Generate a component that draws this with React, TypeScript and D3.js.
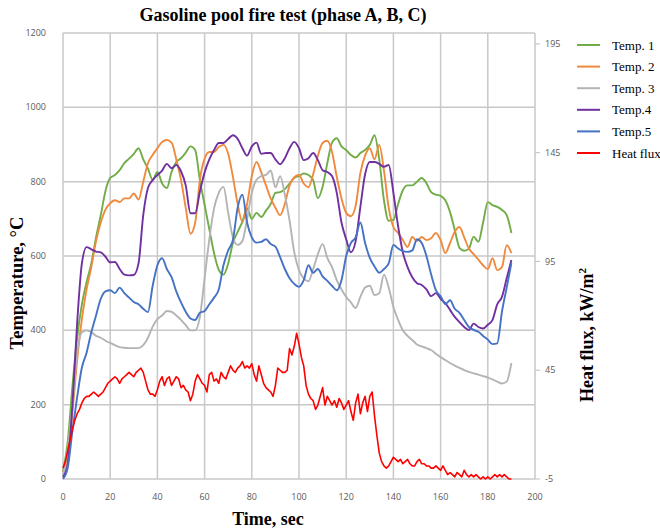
import React from "react";
import * as d3 from "d3";

// ---------- data ----------
const timeStep2 = d3.range(0, 191, 2); // sample times (s) for temperatures
const timeStep1 = d3.range(0, 191, 1); // sample times (s) for heat flux

const temp1 = [20,100,250,380,470,530,580,650,710,775,810,818,831,850,862,875,890,860,835,805,826,795,783,826,853,863,878,895,885,804,738,672,608,563,550,580,635,665,692,728,700,716,705,722,740,770,772,780,795,810,815,822,818,804,755,786,850,905,917,895,885,872,865,877,885,899,925,860,750,695,697,740,777,790,790,800,810,796,772,765,762,750,718,670,622,614,620,652,638,690,745,737,732,724,710,662];
const temp2 = [20,60,180,320,430,510,570,640,690,725,742,750,745,755,755,768,752,800,850,872,890,907,912,905,860,805,730,660,689,805,862,880,880,893,899,875,813,740,692,740,815,853,825,790,755,730,710,740,790,812,818,795,785,820,870,904,910,880,813,755,716,707,735,823,870,890,860,899,830,730,678,662,643,624,651,640,651,643,648,662,643,608,635,665,678,650,620,605,590,575,565,594,562,570,629,608];
const temp3 = [10,80,200,340,395,400,395,385,380,372,366,360,355,353,352,352,352,360,380,410,430,440,452,450,440,428,414,400,400,436,540,645,728,770,786,716,650,630,640,700,770,805,815,818,830,785,815,765,695,610,562,540,532,565,605,632,595,570,535,510,490,475,460,490,515,520,495,500,550,515,463,428,400,385,374,362,357,352,347,337,328,320,312,305,299,293,288,284,281,277,273,268,262,257,262,312];
const temp4 = [5,40,200,420,580,624,618,612,610,598,583,584,565,550,548,549,580,710,783,804,818,830,848,836,845,828,790,715,715,773,825,860,885,904,904,915,925,915,890,870,895,905,875,877,877,860,847,863,890,907,890,858,863,877,858,831,826,815,770,690,645,610,640,732,820,853,853,848,840,845,770,680,610,570,543,527,522,510,492,500,485,473,455,436,422,409,401,418,409,405,415,428,470,490,540,589];
const temp5 = [0,30,130,220,300,340,395,440,485,505,508,500,515,500,488,476,470,458,449,520,575,594,565,543,505,475,450,432,428,447,452,470,488,510,575,615,643,730,765,690,650,636,638,645,632,625,597,565,540,525,517,535,575,555,565,545,533,520,508,535,600,635,650,690,635,595,572,555,565,580,630,620,613,611,615,645,635,600,550,508,492,470,481,458,447,428,409,401,396,385,375,363,365,450,515,581];
const heatFlux = [0,3,8,13,18,22,25,27,30,32,33,33,34,35,34,33,34,35,37,39,40,41,42,41,39,41,42,43,44,43,42,44,45,46,44,40,36,34,34,33,36,40,42,38,41,42,38,40,42,41,37,38,36,35,31,34,40,43,41,39,38,35,43,44,40,41,39,44,42,41,44,47,45,44,46,47,49,46,47,46,48,43,40,47,43,39,37,36,35,33,38,46,45,44,44,45,55,52,56,62,57,51,47,38,34,32,31,27,29,33,37,29,33,31,29,31,28,32,30,27,29,31,26,22,30,34,25,30,33,26,33,35,24,15,7,3,1,0,1,3,5,4,3,4,2,3,4,2,1,1,3,4,2,2,1,1,0,0,1,0,-1,1,-1,-3,-2,-3,-4,-2,-3,-4,-1,-3,-4,-3,-4,-3,-4,-5,-4,-5,-4,-5,-4,-3,-4,-3,-4,-3,-4,-5,-5];

const tempTicks = [0, 200, 400, 600, 800, 1000, 1200];
const fluxTicks = [-5, 45, 95, 145, 195];
const timeTicks = [0, 20, 40, 60, 80, 100, 120, 140, 160, 180, 200];

const seriesNames = ["Temp. 1", "Temp. 2", "Temp. 3", "Temp.4", "Temp.5", "Heat flux"];
const seriesColors = ["#70AD47", "#F08A3E", "#B4B4B4", "#7030A0", "#4472C4", "#FF0000"];

// ---------- layout ----------
const W = 660, H = 531;
const plot = { left: 63, right: 535, top: 33, bottom: 479 };

export default function App() {
  const x = d3.scaleLinear().domain([0, 200]).range([plot.left, plot.right]);
  const yT = d3.scaleLinear().domain([0, 1200]).range([plot.bottom, plot.top]);
  const yQ = d3.scaleLinear().domain([-5, 200]).range([plot.bottom, plot.top]);

  const tempSeries = [temp1, temp2, temp3, temp4, temp5];
  const lineT = d3.line<number>()
    .x((_, i) => x(timeStep2[i]))
    .y((d) => yT(d))
    .curve(d3.curveMonotoneX);
  const lineQ = d3.line<number>()
    .x((_, i) => x(timeStep1[i]))
    .y((d) => yQ(d));

  const gridColor = "#C8C8C8";
  const tickFont = "'Open Sans', 'Liberation Sans', sans-serif";
  const serif = "'Liberation Serif', 'DejaVu Serif', serif";

  return (
    <svg width={W} height={H} style={{ position: "absolute", left: 0, top: 0, background: "#fff" }}>
      <rect x={0} y={0} width={W} height={H} fill="#fff" />
      {/* grid */}
      {tempTicks.map((t) => (
        <line key={"h" + t} x1={plot.left} x2={plot.right} y1={yT(t)} y2={yT(t)} stroke={gridColor} strokeWidth={1.5} />
      ))}
      {timeTicks.map((t) => (
        <line key={"v" + t} x1={x(t)} x2={x(t)} y1={plot.top} y2={plot.bottom} stroke={gridColor} strokeWidth={1.5} />
      ))}
      {/* right axis ticks */}
      {fluxTicks.map((q) => (
        <line key={"rt" + q} x1={plot.right} x2={plot.right + 5} y1={yQ(q)} y2={yQ(q)} stroke={gridColor} strokeWidth={1.2} />
      ))}
      {/* tick labels */}
      {tempTicks.map((t) => (
        <text key={"lt" + t} x={46} y={yT(t)} dy="0.35em" textAnchor="end" fontFamily={tickFont} fontSize={9} fill="#595959">{t}</text>
      ))}
      {fluxTicks.map((q) => (
        <text key={"rl" + q} x={545} y={yQ(q)} dy="0.35em" textAnchor="start" fontFamily={tickFont} fontSize={9} fill="#595959">{q}</text>
      ))}
      {timeTicks.map((t) => (
        <text key={"bl" + t} x={x(t)} y={497} dy="0.35em" textAnchor="middle" fontFamily={tickFont} fontSize={9} fill="#595959">{t}</text>
      ))}
      {/* series */}
      {tempSeries.map((s, i) => (
        <path key={"s" + i} d={lineT(s) || ""} fill="none" stroke={seriesColors[i]} strokeWidth={1.9} strokeLinejoin="round" />
      ))}
      <path d={lineQ(heatFlux) || ""} fill="none" stroke={seriesColors[5]} strokeWidth={1.6} strokeLinejoin="round" />
      {/* titles */}
      <text x={283} y={21} textAnchor="middle" fontFamily={serif} fontWeight="bold" fontSize={18}>Gasoline pool fire test (phase A, B, C)</text>
      <text x={268} y={525} textAnchor="middle" fontFamily={serif} fontWeight="bold" fontSize={18}>Time, sec</text>
      <text transform={`translate(23,283) rotate(-90)`} textAnchor="middle" fontFamily={serif} fontWeight="bold" fontSize={18.5}>Temperature, °C</text>
      <text transform={`translate(593,335) rotate(-90)`} textAnchor="middle" fontFamily={serif} fontWeight="bold" fontSize={18}>
        Heat flux, kW/m<tspan dy={-7} fontSize={11}>2</tspan>
      </text>
      {/* legend */}
      {seriesNames.map((n, i) => {
        const y = 45 + i * 21.6;
        return (
          <g key={"lg" + i}>
            <line x1={577} x2={600} y1={y} y2={y} stroke={seriesColors[i]} strokeWidth={2} />
            <text x={612} y={y} dy="0.35em" fontFamily={serif} fontSize={13} fill="#000">{n}</text>
          </g>
        );
      })}
    </svg>
  );
}
